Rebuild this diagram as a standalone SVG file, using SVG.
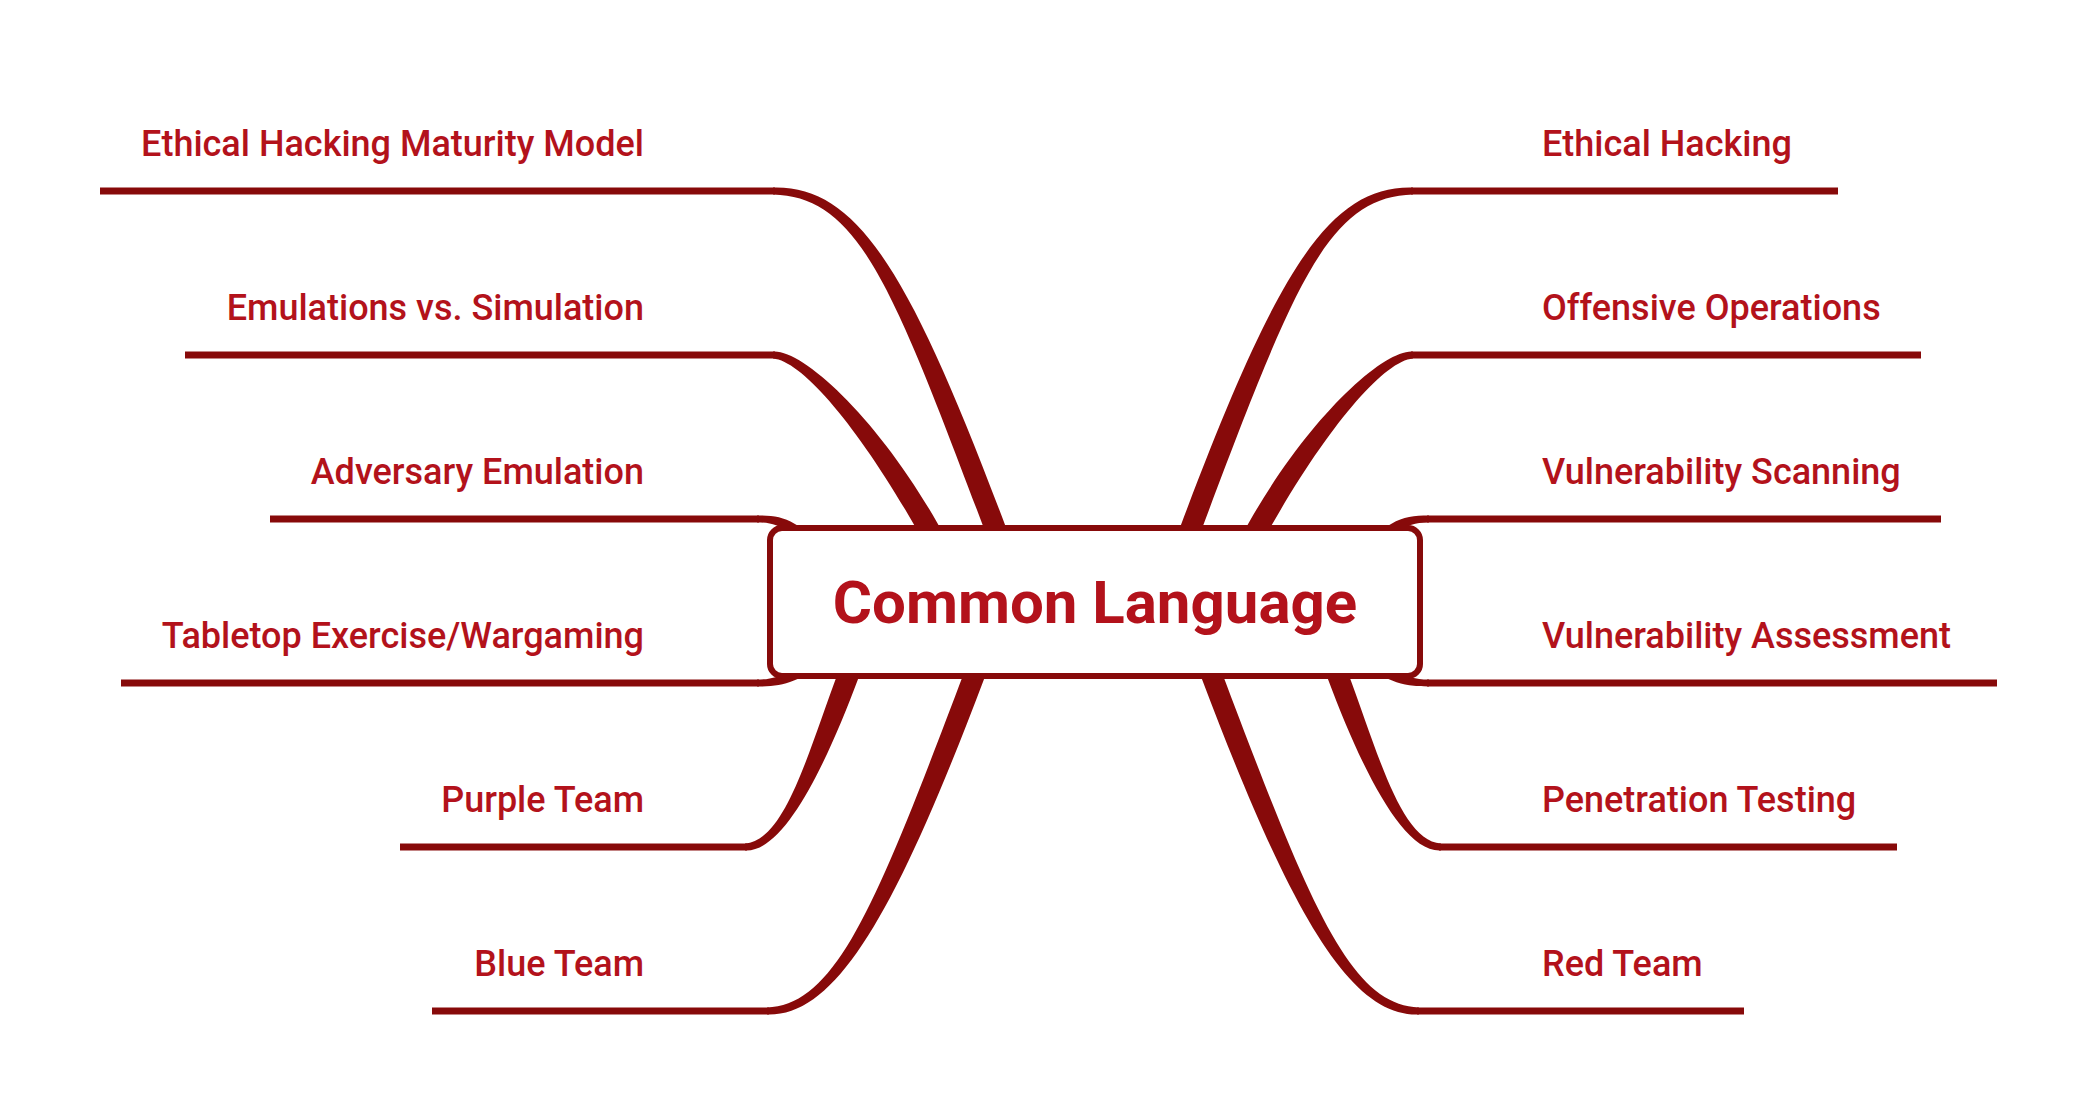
<svg xmlns="http://www.w3.org/2000/svg" xmlns:xlink="http://www.w3.org/1999/xlink" width="2092" height="1114" viewBox="0 0 2092 1114">
<style>
.br{fill:#870A0A;stroke:none}
.ul{stroke:#870A0A;stroke-width:7;fill:none}
.lbl{font-family:Roboto,"Liberation Sans",sans-serif;font-size:36px;font-weight:500;fill:#B3121B}
.l{text-anchor:end}
.ctr{font-family:Roboto,"Liberation Sans",sans-serif;font-size:60px;font-weight:bold;fill:#B3121B;text-anchor:middle}
.box{fill:#fff;stroke:#870A0A;stroke-width:6}
</style>
<rect width="2092" height="1114" fill="#fff"/>
<defs>
<path id="b1" class="br" d="M1006.9,529.9 L1004.8,524.3 C910.8,274.3 858,185 773,187.5 L773,194.5 C858,197 891.2,281.7 985.2,531.7 L987.3,537.3 Z"/>
<path id="b2" class="br" d="M940.1,528.1 L937.2,522.8 C879.2,419.8 803,349 773,351.5 L773,358.5 C803,361 860.9,430.2 918.9,533.2 L921.8,538.4 Z"/>
<path id="b3" class="br" d="M799.7,526.7 L794.5,523.7 C782.5,516.7 772,515.5 757,515.5 L757,522.5 C772,522.5 777.5,525.3 789.5,532.3 L794.7,535.3 Z"/>
<path id="b4" class="br" d="M795.6,669.1 L790.1,671.4 C778.1,676.4 772,679.5 757,679.5 L757,686.5 C772,686.5 781.9,685.6 793.9,680.6 L799.4,678.3 Z"/>
<path id="b5" class="br" d="M840.3,666.7 L838.2,672.3 C808.2,752.3 785,841 745,843.5 L745,850.5 C785,853 827.8,759.7 857.8,679.7 L859.9,674.1 Z"/>
<path id="b6" class="br" d="M966.3,666.7 L964.2,672.3 C877.2,902.3 837,1005 767,1007.5 L767,1014.5 C837,1017 896.8,909.7 983.8,679.7 L985.9,674.1 Z"/>
</defs>
<g id="connectors">
<use xlink:href="#b1"/>
<use xlink:href="#b2"/>
<use xlink:href="#b3"/>
<use xlink:href="#b4"/>
<use xlink:href="#b5"/>
<use xlink:href="#b6"/>
<g transform="matrix(-1,0,0,1,2186,0)">
<use xlink:href="#b1"/>
<use xlink:href="#b2"/>
<use xlink:href="#b3"/>
<use xlink:href="#b4"/>
<use xlink:href="#b5"/>
<use xlink:href="#b6"/>
</g>
</g>
<g id="node-ethical-hacking-maturity-model">
<line class="ul" x1="100" y1="191" x2="775" y2="191"/>
<text class="lbl l" x="644" y="156">Ethical Hacking Maturity Model</text>
</g>
<g id="node-emulations-vs-simulation">
<line class="ul" x1="185" y1="355" x2="775" y2="355"/>
<text class="lbl l" x="644" y="320">Emulations vs. Simulation</text>
</g>
<g id="node-adversary-emulation">
<line class="ul" x1="270" y1="519" x2="759" y2="519"/>
<text class="lbl l" x="644" y="484">Adversary Emulation</text>
</g>
<g id="node-tabletop">
<line class="ul" x1="121" y1="683" x2="759" y2="683"/>
<text class="lbl l" x="644" y="648">Tabletop Exercise/Wargaming</text>
</g>
<g id="node-purple-team">
<line class="ul" x1="400" y1="847" x2="747" y2="847"/>
<text class="lbl l" x="644" y="812">Purple Team</text>
</g>
<g id="node-blue-team">
<line class="ul" x1="432" y1="1011" x2="769" y2="1011"/>
<text class="lbl l" x="644" y="976">Blue Team</text>
</g>
<g id="node-ethical-hacking">
<line class="ul" x1="1411" y1="191" x2="1838" y2="191"/>
<text class="lbl" x="1542" y="156">Ethical Hacking</text>
</g>
<g id="node-offensive-operations">
<line class="ul" x1="1411" y1="355" x2="1921" y2="355"/>
<text class="lbl" x="1542" y="320">Offensive Operations</text>
</g>
<g id="node-vulnerability-scanning">
<line class="ul" x1="1427" y1="519" x2="1941" y2="519"/>
<text class="lbl" x="1542" y="484">Vulnerability Scanning</text>
</g>
<g id="node-vulnerability-assessment">
<line class="ul" x1="1427" y1="683" x2="1997" y2="683"/>
<text class="lbl" x="1542" y="648">Vulnerability Assessment</text>
</g>
<g id="node-penetration-testing">
<line class="ul" x1="1439" y1="847" x2="1897" y2="847"/>
<text class="lbl" x="1542" y="812">Penetration Testing</text>
</g>
<g id="node-red-team">
<line class="ul" x1="1417" y1="1011" x2="1744" y2="1011"/>
<text class="lbl" x="1542" y="976">Red Team</text>
</g>
<g id="node-common-language">
<rect class="box" x="770" y="528" width="650" height="148" rx="12"/>
<text class="ctr" x="1095" y="623">Common Language</text>
</g>
</svg>
